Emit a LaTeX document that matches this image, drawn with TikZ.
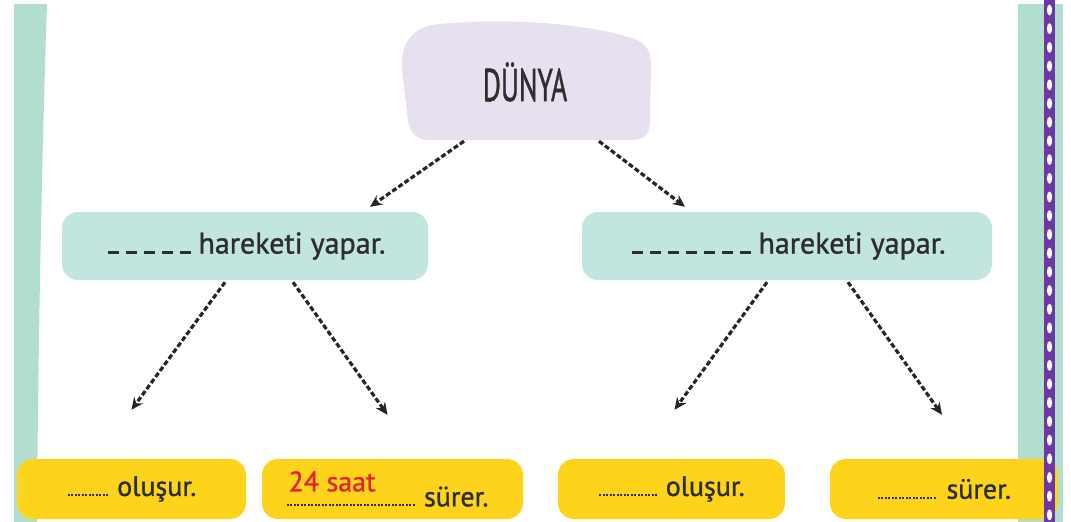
\documentclass[tikz,border=0pt]{standalone}
\usepackage{fontspec}
\setmainfont{PT Sans}[FakeBold=1.2]
\usetikzlibrary{arrows.meta}
\definecolor{dunyafill}{HTML}{E7E1EF}
\definecolor{movefill}{HTML}{C2E5DF}
\definecolor{answerfill}{HTML}{FDD31B}
\definecolor{stripgreen}{HTML}{B2DFCD}
\definecolor{ribbon}{HTML}{6E37A3}
\definecolor{inkgray}{HTML}{2E2E2E}
\definecolor{penred}{HTML}{E1262B}
\newcommand\blankdash[1]{\leaders\hbox to 18pt{\hss\rule{11pt}{2.5pt}\hss}\hskip #1\relax}
\newcommand\blankdots[1]{\leaders\hbox to 3.5pt{\hss\rule{2pt}{2pt}\hss}\hskip #1\relax}
\begin{document}
\begin{tikzpicture}[x=1pt,y=-1pt,
	movebox/.style={fill=movefill,rounded corners=16pt,text=inkgray,font=\fontsize{30}{34}\selectfont,minimum height=68pt,inner sep=0pt},
	answerbox/.style={fill=answerfill,rounded corners=16pt,text=inkgray,font=\fontsize{28}{32}\selectfont,minimum height=60pt,inner sep=0pt},
	dasharrow/.style={line width=3.2pt,dash pattern=on 5pt off 2.5pt,black!85,-{Stealth[length=12pt,width=11pt]}}]
	\useasboundingbox (0,0) rectangle (1071,522);
	
	\fill[stripgreen] (14,4) -- (47,4) .. controls (42,150) and (38,350) .. (37,522) -- (14,522) -- cycle;
	\fill[stripgreen] (1018,4) rectangle (1063,522);
	
	\fill[dunyafill] (440,24) .. controls (500,18) and (580,22) .. (632,38) .. controls (650,44) and (651,55) .. (651,70) -- (650,120) .. controls (650,135) and (645,140) .. (630,140) -- (430,140) .. controls (415,140) and (410,132) .. (408,120) -- (402,70) .. controls (400,40) and (415,26) .. (440,24) -- cycle;
	\node[text=inkgray,font=\fontsize{46}{46}\selectfont,minimum width=248pt,minimum height=118pt] (dunya) at (525,82) {\scalebox{0.6}[1]{DÜNYA}};
	
	\node[movebox,minimum width=366pt] (leftmove) at (245,246) {\blankdash{90pt}\hspace{4pt}hareketi yapar.};
	\node[movebox,minimum width=410pt] (rightmove) at (787,246) {\blankdash{126pt}\hspace{4pt}hareketi yapar.};
	
	\node[answerbox,minimum width=229pt] (leftform) at (131.5,489) {\blankdots{43pt} oluşur.};
	\node[answerbox,minimum width=261pt] (leftlast) at (392.5,489) {\rlap{\raisebox{15pt}{\hspace{-8pt}\color{penred}24 saat}}\hspace{-12pt}\blankdots{132pt} sürer.};
	\node[answerbox,minimum width=227pt] (rightform) at (671.5,489) {\blankdots{60pt} oluşur.};
	\node[answerbox,minimum width=228pt] (rightlast) at (944,489) {\blankdots{62pt} sürer.};
	
	\draw[dasharrow] ([xshift=-61pt]dunya.south) -- ([xshift=125pt,yshift=5pt]leftmove.north);
	\draw[dasharrow] ([xshift=74pt]dunya.south) -- ([xshift=-102pt,yshift=5pt]rightmove.north);
	\draw[dasharrow] ([xshift=-20pt,yshift=-2pt]leftmove.south) -- ([yshift=49pt]leftform.north);
	\draw[dasharrow] ([xshift=48pt,yshift=-2pt]leftmove.south) -- ([xshift=-5pt,yshift=44pt]leftlast.north);
	\draw[dasharrow] ([xshift=-20pt,yshift=-2pt]rightmove.south) -- ([xshift=3pt,yshift=49pt]rightform.north);
	\draw[dasharrow] ([xshift=61pt,yshift=-2pt]rightmove.south) -- ([xshift=-2pt,yshift=44pt]rightlast.north);
	
	\fill[ribbon] (1044,0) rectangle (1055,522);
	\foreach \k in {0,...,27}
		\fill[white] (1049.5,{10+18.7*\k}) ellipse (2.6 and 5.5);
\end{tikzpicture}
\end{document}
